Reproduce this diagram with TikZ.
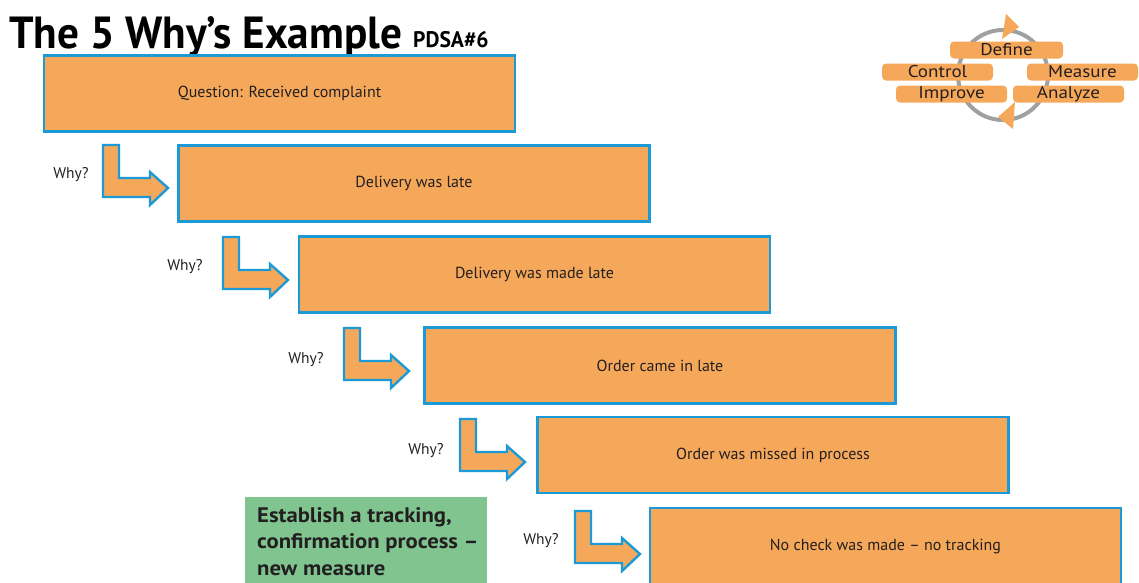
\documentclass[tikz,border=0pt]{standalone}
\usepackage{fontspec}
\setmainfont{PT Sans}
\newfontfamily\titlefont{PT Sans}[FakeStretch=0.96]
\newfontfamily\widefont{PT Sans}[FakeStretch=1.12]
\newfontfamily\actfont{PT Sans}[FakeStretch=1.08]
\definecolor{boxorange}{HTML}{F6A85A}
\definecolor{boxblue}{HTML}{1B9AD6}
\definecolor{actgreen}{HTML}{80C590}
\definecolor{ringgray}{HTML}{A0A0A0}
\definecolor{ink}{HTML}{231F20}
\tikzset{
  whybox/.style={draw=boxblue, line width=2.6pt, fill=boxorange,
    minimum width=471pt, minimum height=76pt, inner sep=0pt,
    text=ink, font=\fontsize{16}{19}\selectfont},
  whylabel/.style={text=ink, inner sep=0pt, font=\fontsize{15.5}{17}\selectfont},
  arrowshape/.style={draw=boxblue, line width=2.4pt, fill=boxorange, line join=miter},
  bentarrow/.pic={
    \draw[arrowshape] (0,0) -- (16,0) -- (16,33) -- (47,33) -- (47,27)
      -- (65,43) -- (47,60) -- (47,52) -- (0,52) -- cycle;
  },
  tab/.style={fill=boxorange, rounded corners=4pt, minimum width=111pt,
    minimum height=17pt, inner sep=0pt, text=ink,
    font=\widefont\fontsize{17}{17}\selectfont},
}
\begin{document}
\begin{tikzpicture}[x=1pt,y=-1pt]
\useasboundingbox (0,0) rectangle (1139,582);
\clip (0,0) rectangle (1139,582);

% title
\node[anchor=base west, inner sep=0pt, font=\titlefont\bfseries\fontsize{45}{45}\selectfont]
  (title) at (9,48) {The 5 Why’s Example};
\node[anchor=base west, inner sep=0pt, font=\titlefont\bfseries\fontsize{22.5}{22.5}\selectfont]
  (pdsa) at (413,47) {PDSA\#6};

% the chain of questions
\node[whybox] (q)  at (279.5,93.5) {\raisebox{-1.5pt}{Question: Received complaint}};
\node[whybox] (a1) at (414,183.5)  {\raisebox{-1.5pt}{Delivery was late}};
\node[whybox] (a2) at (534.5,274.5){\raisebox{-1.5pt}{Delivery was made late}};
\node[whybox] (a3) at (660,365.5)  {\raisebox{-1.5pt}{Order came in late}};
\node[whybox] (a4) at (773,455)    {\raisebox{-1.5pt}{Order was missed in process}};
\node[whybox] (a5) at (885.5,546)  {\raisebox{-1.5pt}{No check was made – no tracking}};

% bent arrows and their labels
\pic at (103,145) {bentarrow};
\pic at (223,237) {bentarrow};
\pic at (344,328) {bentarrow};
\pic at (460,419) {bentarrow};
\pic at (575,511) {bentarrow};
\node[whylabel] (w1) at (71,175)  {Why?};
\node[whylabel] (w2) at (185,267) {Why?};
\node[whylabel] (w3) at (306,360) {Why?};
\node[whylabel] (w4) at (426,451) {Why?};
\node[whylabel] (w5) at (541,541) {Why?};

% counter-measure
\node[fill=actgreen, anchor=north west, minimum width=242pt, minimum height=100pt,
  inner sep=0pt] (act) at (245,497) {};
\node[anchor=north west, inner sep=0pt, align=left, text=ink,
  font=\actfont\bfseries\fontsize{21}{26.5}\selectfont] (acttext) at (257,507)
  {Establish a tracking,\\confirmation process –\\new measure};

% DMAIC cycle
\draw[ringgray, line width=4pt] (1003,75) circle[radius=45];
\fill[boxorange] (1006,14) -- (1019,27) -- (1002,39) -- cycle;
\fill[boxorange] (1015,102) -- (998,117) -- (1013,129) -- cycle;
\node[tab, minimum width=113pt] (define)  at (1006.5,50) {Define};
\node[tab] (control) at (937.5,72) {Control};
\node[tab] (measure) at (1082.5,72) {Measure};
\node[tab] (improve) at (951.5,94) {Improve};
\node[tab] (analyze) at (1068.5,94) {Analyze};
\end{tikzpicture}
\end{document}
